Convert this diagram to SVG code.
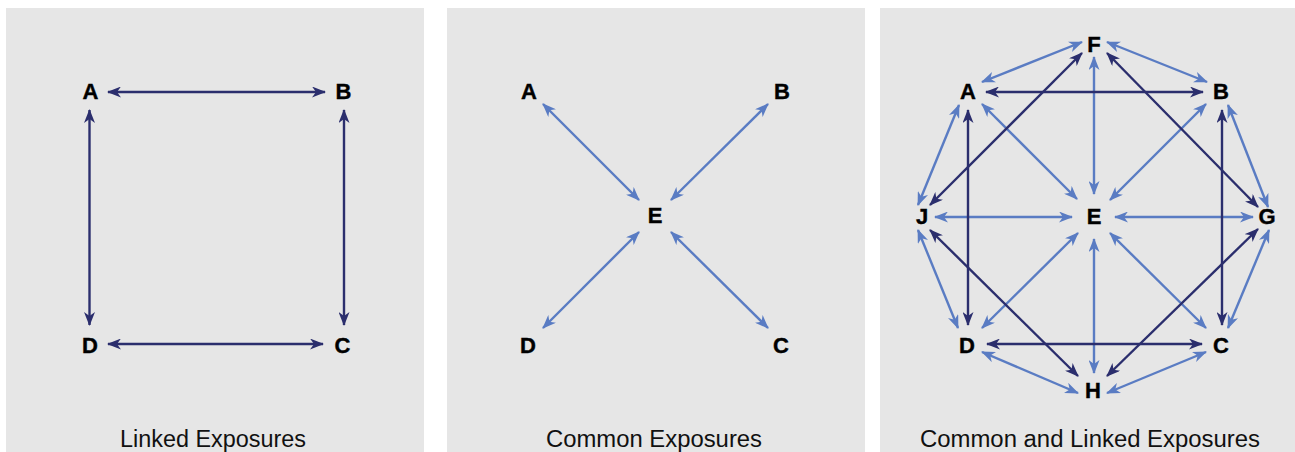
<svg xmlns="http://www.w3.org/2000/svg" width="1295" height="452" viewBox="0 0 1295 452">
<defs>
<style>
.panel{fill:#e6e6e6}
.lbl{font-family:"Liberation Sans",Arial,sans-serif;font-weight:bold;font-size:22px;fill:#000;text-anchor:middle;stroke:#000;stroke-width:0.4}
.cap{font-family:"Liberation Sans",Arial,sans-serif;font-size:23px;fill:#111;text-anchor:middle}
.dk{stroke:#2b2e6d;stroke-width:2.4;fill:none;marker-start:url(#ad);marker-end:url(#ad)}
.lt{stroke:#5a7cc3;stroke-width:2.4;fill:none;marker-start:url(#al);marker-end:url(#al)}
</style>
<marker id="ad" viewBox="0 0 14 11" refX="13" refY="5.5" markerWidth="14" markerHeight="11" markerUnits="userSpaceOnUse" orient="auto-start-reverse">
<path d="M0,0 L14,5.5 L0,11 L4,5.5 Z" fill="#2b2e6d"/>
</marker>
<marker id="al" viewBox="0 0 14 11" refX="13" refY="5.5" markerWidth="14" markerHeight="11" markerUnits="userSpaceOnUse" orient="auto-start-reverse">
<path d="M0,0 L14,5.5 L0,11 L4,5.5 Z" fill="#5a7cc3"/>
</marker>
</defs>
<rect width="1295" height="452" fill="#ffffff"/>
<g id="panels">
<rect class="panel" x="6" y="8" width="418" height="444"/>
<rect class="panel" x="447" y="8" width="418" height="444"/>
<rect class="panel" x="880" y="8" width="418" height="444"/>
</g>
<g id="connectors">
<!-- panel 1 -->
<line class="dk" x1="108" y1="92" x2="325" y2="92"/>
<line class="dk" x1="89.5" y1="110" x2="89.5" y2="325"/>
<line class="dk" x1="344" y1="110" x2="344" y2="325"/>
<line class="dk" x1="108" y1="344" x2="323" y2="344"/>
<!-- panel 2 -->
<line class="lt" x1="543" y1="104" x2="639" y2="200"/>
<line class="lt" x1="768" y1="104" x2="671" y2="200"/>
<line class="lt" x1="639" y1="232" x2="543" y2="328"/>
<line class="lt" x1="671" y1="232" x2="768" y2="328"/>
<!-- panel 3 light -->
<line class="lt" x1="982" y1="82" x2="1082" y2="42"/>
<line class="lt" x1="1107" y1="42" x2="1207" y2="82"/>
<line class="lt" x1="1094" y1="57" x2="1094" y2="194"/>
<line class="lt" x1="982" y1="104" x2="1077" y2="199"/>
<line class="lt" x1="1206" y1="104" x2="1110" y2="200"/>
<line class="lt" x1="935" y1="217" x2="1072" y2="217"/>
<line class="lt" x1="1115" y1="217" x2="1253" y2="217"/>
<line class="lt" x1="1078" y1="233" x2="982" y2="328"/>
<line class="lt" x1="1110" y1="233" x2="1206" y2="328"/>
<line class="lt" x1="1094" y1="239" x2="1094" y2="373"/>
<line class="lt" x1="959" y1="105" x2="918" y2="205"/>
<line class="lt" x1="918" y1="230" x2="958" y2="328"/>
<line class="lt" x1="1228" y1="105" x2="1268" y2="207"/>
<line class="lt" x1="1269" y1="230" x2="1228" y2="328"/>
<line class="lt" x1="982" y1="352" x2="1078" y2="393"/>
<line class="lt" x1="1107" y1="393" x2="1206" y2="352"/>
<!-- panel 3 dark -->
<line class="dk" x1="986" y1="92" x2="1203" y2="92"/>
<line class="dk" x1="968" y1="110" x2="968" y2="325"/>
<line class="dk" x1="1222" y1="110" x2="1222" y2="325"/>
<line class="dk" x1="987" y1="344" x2="1202" y2="344"/>
<line class="dk" x1="930" y1="205" x2="1082" y2="53"/>
<line class="dk" x1="1107" y1="53" x2="1258" y2="207"/>
<line class="dk" x1="930" y1="230" x2="1078" y2="376"/>
<line class="dk" x1="1258" y1="229" x2="1107" y2="376"/>
</g>
<g id="p1-A"><text class="lbl" x="90.5" y="99">A</text></g>
<g id="p1-B"><text class="lbl" x="343.5" y="99">B</text></g>
<g id="p1-C"><text class="lbl" x="342.5" y="353">C</text></g>
<g id="p1-D"><text class="lbl" x="90" y="353">D</text></g>
<g id="p2-A"><text class="lbl" x="529" y="99">A</text></g>
<g id="p2-B"><text class="lbl" x="782" y="99">B</text></g>
<g id="p2-E"><text class="lbl" x="655" y="223">E</text></g>
<g id="p2-C"><text class="lbl" x="781" y="353">C</text></g>
<g id="p2-D"><text class="lbl" x="528" y="353">D</text></g>
<g id="p3-F"><text class="lbl" x="1094" y="52">F</text></g>
<g id="p3-A"><text class="lbl" x="968" y="99">A</text></g>
<g id="p3-B"><text class="lbl" x="1221" y="99">B</text></g>
<g id="p3-J"><text class="lbl" x="922" y="224">J</text></g>
<g id="p3-E"><text class="lbl" x="1094" y="224">E</text></g>
<g id="p3-G"><text class="lbl" x="1267" y="224">G</text></g>
<g id="p3-D"><text class="lbl" x="967" y="353">D</text></g>
<g id="p3-C"><text class="lbl" x="1221" y="353">C</text></g>
<g id="p3-H"><text class="lbl" x="1093" y="398">H</text></g>
<g id="captions">
<text class="cap" x="213" y="447" textLength="186" lengthAdjust="spacingAndGlyphs">Linked Exposures</text>
<text class="cap" x="654" y="447" textLength="216" lengthAdjust="spacingAndGlyphs">Common Exposures</text>
<text class="cap" x="1090" y="447" textLength="340" lengthAdjust="spacingAndGlyphs">Common and Linked Exposures</text>
</g>
</svg>
